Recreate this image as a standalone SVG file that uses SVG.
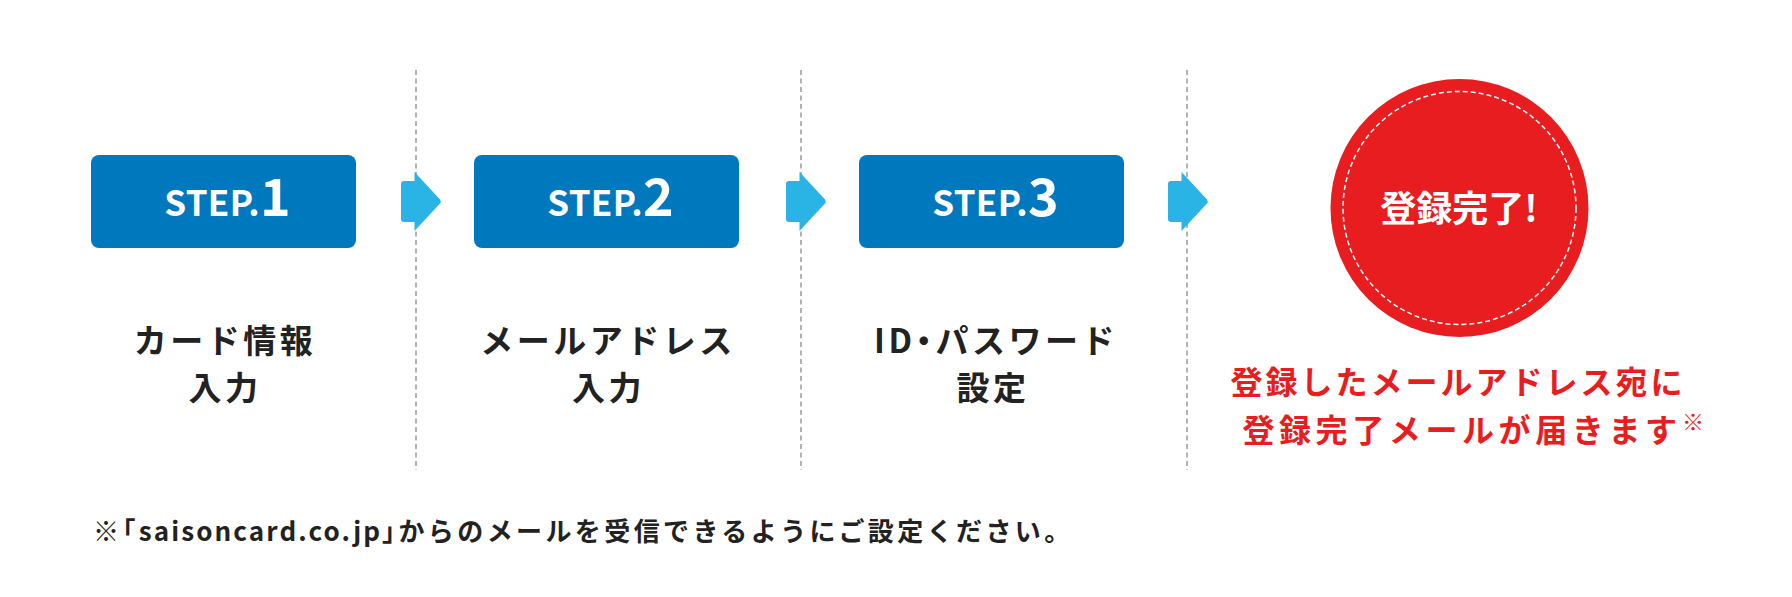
<svg xmlns="http://www.w3.org/2000/svg" width="1792" height="597" viewBox="0 0 1792 597">
  <style>
    text { font-family: "Noto Sans CJK JP", "Noto Sans", sans-serif; font-weight: 700; }
    .box { fill: #0078bd; }
    .step { fill: #ffffff; font-size: 35px; letter-spacing: 0.3px; }
    .num { font-size: 52px; letter-spacing: 0; }
    .label { fill: #222222; font-size: 33px; letter-spacing: 3.5px; text-anchor: middle; }
    .red { fill: #e81d20; font-size: 32px; }
    .half { font-feature-settings: "halt"; }
    .sep { stroke: #9a9a9a; stroke-width: 1.5; stroke-dasharray: 5 3.5; fill: none; }
    .arrow { fill: #29b4e5; }
  </style>
  <defs>
    <path id="arrowShape" class="arrow" d="M3,-20.5 H13.5 V-29.5 L39,-2 Q40.5,0 39,2 L13.5,29.5 V20.5 H3 Q0,20.5 0,17.5 V-17.5 Q0,-20.5 3,-20.5 Z"/>
  </defs>
  <rect width="1792" height="597" fill="#ffffff"/>

  <g id="connectors">
    <line class="sep" x1="416" y1="70" x2="416" y2="470"/>
    <line class="sep" x1="801" y1="70" x2="801" y2="470"/>
    <line class="sep" x1="1187" y1="70" x2="1187" y2="470"/>
    <use href="#arrowShape" x="401" y="201.5"/>
    <use href="#arrowShape" x="786" y="201.5"/>
    <use href="#arrowShape" x="1168" y="201.5"/>
  </g>

  <g id="step1">
    <rect class="box" x="91" y="155" width="265" height="93" rx="8"/>
    <text class="step" x="227.5" y="216" text-anchor="middle">STEP.<tspan class="num">1</tspan></text>
    <text class="label" x="225" y="353">カード情報</text>
    <text class="label" x="225" y="400">入力</text>
  </g>

  <g id="step2">
    <rect class="box" x="474" y="155" width="265" height="93" rx="8"/>
    <text class="step" x="610.5" y="216" text-anchor="middle">STEP.<tspan class="num">2</tspan></text>
    <text class="label" x="608" y="353" letter-spacing="3">メールアドレス</text>
    <text class="label" x="608.5" y="400">入力</text>
  </g>

  <g id="step3">
    <rect class="box" x="859" y="155" width="265" height="93" rx="8"/>
    <text class="step" x="995.5" y="216" text-anchor="middle">STEP.<tspan class="num">3</tspan></text>
    <text class="label" x="996" y="353" letter-spacing="2.6">ID<tspan class="half">・</tspan>パスワード</text>
    <text class="label" x="993" y="400">設定</text>
  </g>

  <g id="complete">
    <circle cx="1459.5" cy="208" r="129" fill="#e81d20"/>
    <circle cx="1459.5" cy="208" r="116.5" fill="none" stroke="#ffffff" stroke-width="1.5" stroke-dasharray="5 3"/>
    <text x="1459" y="222" fill="#ffffff" font-size="36" text-anchor="middle">登録完了!</text>
  </g>

  <g id="complete-note">
    <text class="red" x="1458" y="394" text-anchor="middle" letter-spacing="3">登録したメールアドレス宛に</text>
    <text class="red" x="1462" y="442" text-anchor="middle" letter-spacing="4.6">登録完了メールが届きます</text>
    <text x="1682" y="430" fill="#e81d20" font-size="22">※</text>
  </g>

  <g id="footer">
    <text x="93" y="541" fill="#222222" font-size="26" letter-spacing="3.4">※<tspan class="half">「</tspan><tspan letter-spacing="2.1">saisoncard.co.jp</tspan><tspan class="half">」</tspan>からのメールを受信できるようにご設定ください。</text>
  </g>
</svg>
